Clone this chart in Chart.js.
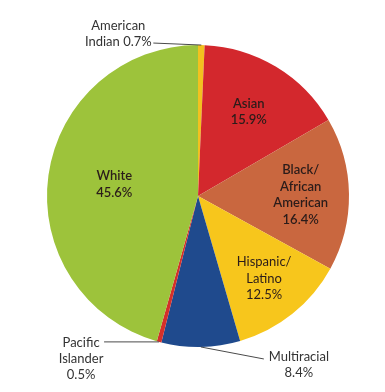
<!DOCTYPE html>
<html>
<head>
<meta charset="utf-8">
<title>Enrollment by race/ethnicity</title>
<script src="https://cdn.jsdelivr.net/npm/chart.js@4.4.1/dist/chart.umd.min.js"></script>
<style>
  html, body { margin: 0; padding: 0; background: #fff; }
  #wrap { width: 385px; height: 392px; position: relative; }
</style>
</head>
<body>
<div id="wrap"><canvas id="pieChart"></canvas></div>
<script>
// Slices go clockwise from 12 o'clock
const groups = ['American Indian', 'Asian', 'Black/African American', 'Hispanic/Latino', 'Multiracial', 'Pacific Islander', 'White'];
const shares = [0.7, 15.9, 16.4, 12.5, 8.4, 0.5, 45.6];
const sliceColors = ['#f3c11f', '#d3282d', '#c9673f', '#f7c61c', '#1f4a8d', '#d4302a', '#9dc33b'];

// Text lines shown for each slice (value line is appended from shares)
const labelLines = [
    ['American', 'Indian'],
    ['Asian'],
    ['Black/', 'African', 'American'],
    ['Hispanic/', 'Latino'],
    ['Multiracial'],
    ['Pacific', 'Islander'],
    ['White']
];

const FONT = 'Lato, "Open Sans", sans-serif';

// Where each label goes: inside at a fraction of the radius, or outside with a leader line
const placement = [
    { outside: true, lineDx: -48, lineDy: -2, textDx: -83, textDy: -19, inline: true },
    { inside: 0.65, bold: true },
    { inside: 0.68, bold: true },
    { inside: 0.70, bold: false },
    { outside: true, lineDx: 63, lineDy: 12, textDx: 98, textDy: 10 },
    { outside: true, lineDx: -55, lineDy: 0, textDx: -78, textDy: 1 },
    { inside: 0.56, bold: true }
];

const sliceLabels = {
    id: 'sliceLabels',
    afterDatasetsDraw(chart) {
        const ctx = chart.ctx;
        const meta = chart.getDatasetMeta(0);
        ctx.save();
        ctx.textAlign = 'center';
        ctx.textBaseline = 'middle';
        meta.data.forEach((arc, i) => {
            const p = placement[i];
            const { x, y, startAngle, endAngle, outerRadius } = arc.getProps(['x', 'y', 'startAngle', 'endAngle', 'outerRadius'], true);
            const mid = (startAngle + endAngle) / 2;
            const value = shares[i].toFixed(1) + '%';

            if (p.inside) {
                const lines = labelLines[i].concat([value]);
                const cx = x + Math.cos(mid) * outerRadius * p.inside;
                const cy = y + Math.sin(mid) * outerRadius * p.inside;
                const lh = 16.5;
                ctx.fillStyle = '#2b1c1a';
                ctx.font = (p.bold ? '600 ' : '400 ') + '13px ' + FONT;
                lines.forEach((t, k) => {
                    ctx.fillText(t, cx, cy + (k - (lines.length - 1) / 2) * lh);
                });
                return;
            }

            // leader line from the rim out to the text
            const ex = x + Math.cos(mid) * outerRadius;
            const ey = y + Math.sin(mid) * outerRadius;
            const lx = ex + p.lineDx;
            const ly = ey + p.lineDy;
            ctx.strokeStyle = '#4a4a4a';
            ctx.lineWidth = 1;
            ctx.beginPath();
            ctx.moveTo(ex, ey);
            ctx.lineTo(lx, ly);
            ctx.stroke();

            ctx.fillStyle = '#333';
            ctx.font = '400 13px ' + FONT;
            const tx = ex + p.textDx;
            const ty = ey + p.textDy;
            let lines;
            if (p.inline) {
                lines = [labelLines[i][0], labelLines[i].slice(1).join(' ') + ' ' + value];
            } else {
                lines = labelLines[i].concat([value]);
            }
            lines.forEach((t, k) => {
                ctx.fillText(t, tx, ty + k * 16);
            });
        });
        ctx.restore();
    }
};

const ctx = document.getElementById('pieChart').getContext('2d');
window.pieChart = new Chart(ctx, {
    type: 'pie',
    data: {
        labels: groups,
        datasets: [{
            data: shares,
            backgroundColor: sliceColors,
            borderWidth: 0
        }]
    },
    options: {
        responsive: true,
        maintainAspectRatio: false,
        animation: false,
        layout: { padding: { left: 47, right: 36, top: 45, bottom: 45 } },
        plugins: {
            legend: { display: false },
            tooltip: { enabled: false }
        }
    },
    plugins: [sliceLabels]
});
</script>
</body>
</html>
